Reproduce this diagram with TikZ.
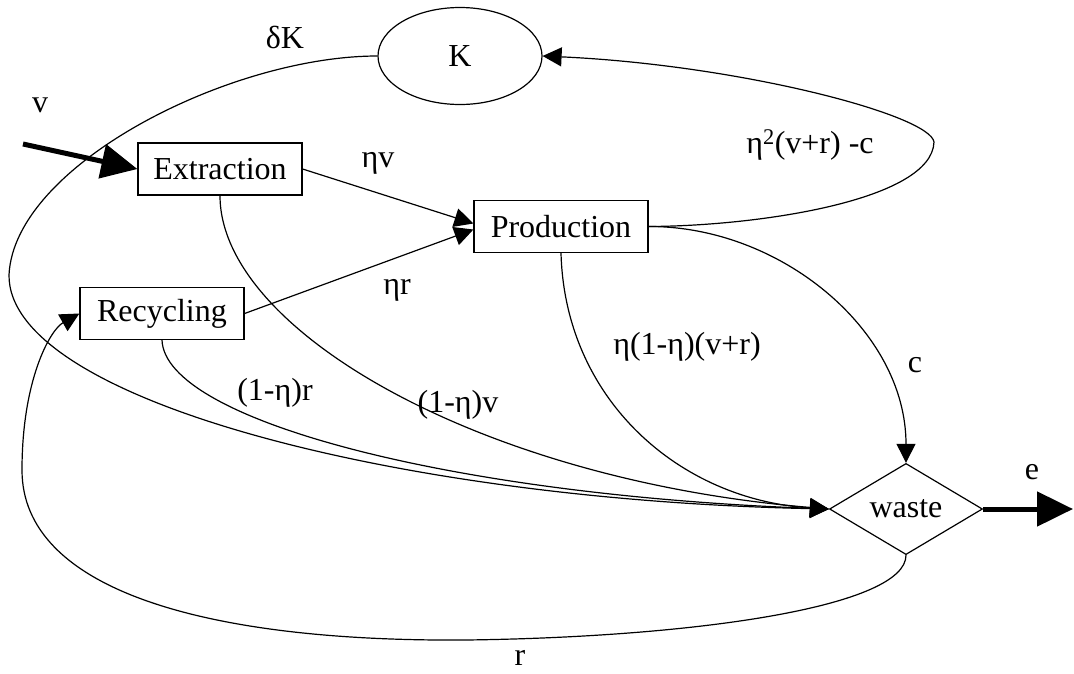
\documentclass[tikz,border=0pt]{standalone}
\usepackage{fontspec}
\setmainfont{Liberation Serif}
\usetikzlibrary{arrows.meta,shapes.geometric}
\begin{document}
\begin{tikzpicture}[x=1pt,y=-1pt,
  every node/.style={font=\fontsize{32}{38}\selectfont, inner sep=0pt},
  box/.style={draw, line width=1.2pt, minimum height=52pt},
  flow/.style={line width=1.2pt, -{Triangle[length=19pt,width=19pt]}},
  big/.style={line width=5pt, -{Triangle[length=36pt,width=34pt]}}
]
\useasboundingbox (0,0) rectangle (1074,673);

% nodes
\node[draw, ellipse, line width=1.2pt, minimum width=164pt, minimum height=97pt] (K) at (460,56) {K};
\node[box, minimum width=164pt] (ex) at (220,169) {Extraction};
\node[box, minimum width=174pt] (prod) at (561,226.5) {Production};
\node[box, minimum width=164pt] (rec) at (162,313.5) {Recycling};
\node[draw, diamond, line width=1.2pt, minimum width=153pt, minimum height=76pt] (w) at (906,509) {waste};

\coordinate (vin) at (23,144);
\coordinate (eout) at (1073,509);

% connectors
\draw[big] (vin) -- (ex.west);
\draw[big] (w.east) -- (eout);
\draw[flow] (ex.east) -- ([yshift=3pt]prod.west);
\draw[flow] (rec.east) -- ([yshift=-3pt]prod.west);
\draw[flow] (prod.east) .. controls (760,226) and (932,200) .. (934,142) .. controls (930,115) and (740,65) .. (K.east);
\draw[flow] (K.west) .. controls (230,56) and (14,165) .. (9,275) .. controls (8,400) and (400,500) .. (w.west);
\draw[flow] (ex.south) .. controls (220,330) and (480,480) .. (w.west);
\draw[flow] (rec.south) .. controls (165,420) and (450,495) .. (w.west);
\draw[flow] (prod.south) .. controls (565,400) and (680,500) .. (w.west);
\draw[flow] (prod.east) .. controls (780,226) and (906,330) .. (w.north);
\draw[flow] (w.south) .. controls (906,606) and (700,637) .. (466,640) .. controls (200,642) and (22,588) .. (22,470) .. controls (22,380) and (50,330) .. (rec.west);

% labels
\node (lv) at (40,105) {v};
\node (ldk) at (285,37) {δK};
\node (lev) at (378,163) {ηv};
\node (ler) at (397,290) {ηr};
\node (lkc) at (810,145) {η\textsuperscript{2}(v+r) -c};
\node (l1r) at (275,393) {(1-η)r};
\node (l1v) at (458,405) {(1-η)v};
\node (lp) at (687,347) {η(1-η)(v+r)};
\node (lc) at (915,365) {c};
\node (lr) at (520,658) {r};
\node (le) at (1032,472) {e};
\end{tikzpicture}
\end{document}
